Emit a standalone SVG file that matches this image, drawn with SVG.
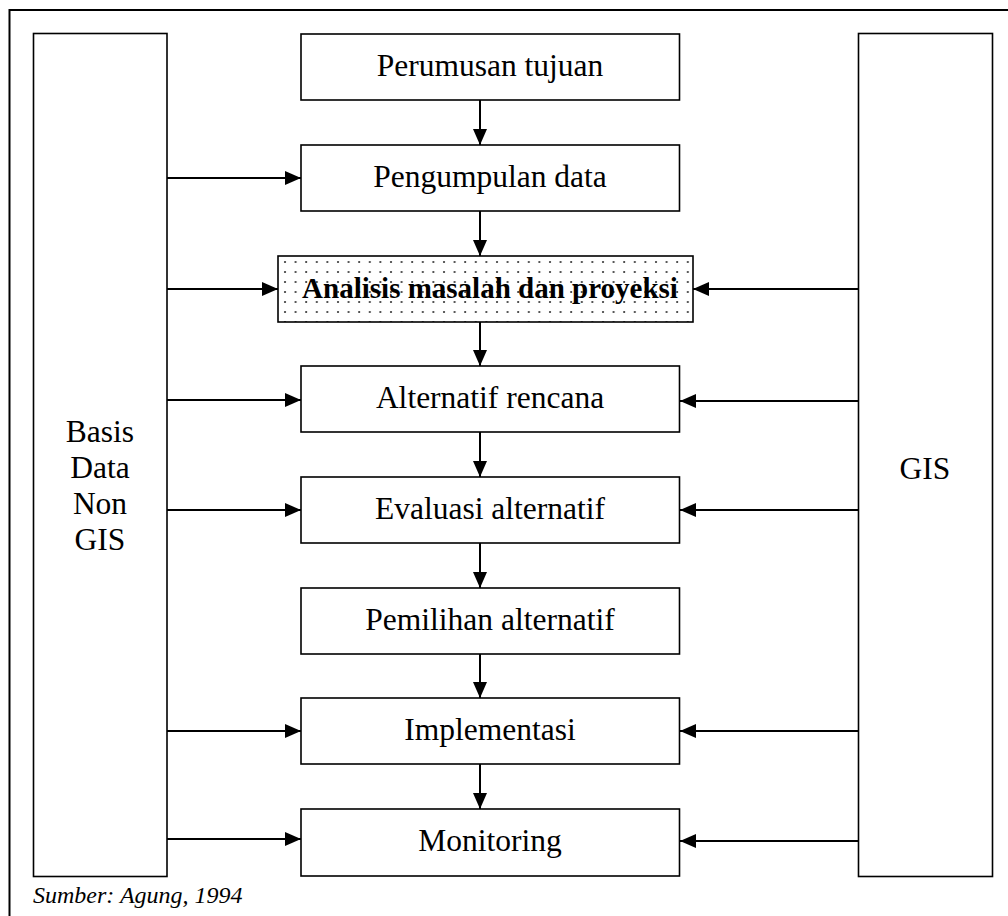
<svg xmlns="http://www.w3.org/2000/svg" width="1008" height="916" viewBox="0 0 1008 916">
<style>
.box{fill:#fff;stroke:#000;stroke-width:1.6}
.t{font-family:"Liberation Serif","Times New Roman",serif;font-size:31.5px;fill:#000;text-anchor:middle}
.b{font-weight:bold;font-size:29px}
.src{font-family:"Liberation Serif","Times New Roman",serif;font-size:24px;font-style:italic;fill:#000}
.c{stroke:#000;stroke-width:2;fill:none;marker-end:url(#ah)}
</style>
<defs>
<marker id="ah" markerUnits="userSpaceOnUse" markerWidth="16" markerHeight="14" refX="16" refY="7" orient="auto">
<path d="M0,0 L16,7 L0,14 z" fill="#000"/>
</marker>
<pattern id="dots" patternUnits="userSpaceOnUse" width="10.6" height="10" x="283" y="260">
<rect width="10.6" height="10" fill="#fff"/>
<circle cx="2" cy="2" r="1.1" fill="#333"/>
</pattern>
</defs>
<rect x="9.5" y="10" width="1010" height="920" fill="none" stroke="#000" stroke-width="2"/>
<g id="basis">
<rect class="box" x="33.5" y="33.5" width="133.5" height="843"/>
<text class="t" x="100" y="442">Basis</text>
<text class="t" x="100" y="478">Data</text>
<text class="t" x="100" y="514">Non</text>
<text class="t" x="100" y="550">GIS</text>
</g>
<g id="gis">
<rect class="box" x="858.5" y="33.5" width="134" height="843"/>
<text class="t" x="925" y="479">GIS</text>
</g>
<g id="n1"><rect class="box" x="301" y="34" width="378.5" height="66"/><text class="t" x="490" y="76">Perumusan tujuan</text></g>
<g id="n2"><rect class="box" x="301" y="145" width="378.5" height="66"/><text class="t" x="490" y="187">Pengumpulan data</text></g>
<g id="n3"><rect class="box" x="278" y="256" width="415" height="66" style="fill:url(#dots)"/><text class="t b" x="490" y="298">Analisis masalah dan proyeksi</text></g>
<g id="n4"><rect class="box" x="301" y="366" width="378.5" height="66"/><text class="t" x="490" y="408">Alternatif rencana</text></g>
<g id="n5"><rect class="box" x="301" y="477" width="378.5" height="66"/><text class="t" x="490" y="519">Evaluasi alternatif</text></g>
<g id="n6"><rect class="box" x="301" y="588" width="378.5" height="66"/><text class="t" x="490" y="630">Pemilihan alternatif</text></g>
<g id="n7"><rect class="box" x="301" y="698" width="378.5" height="66"/><text class="t" x="490" y="740">Implementasi</text></g>
<g id="n8"><rect class="box" x="301" y="809" width="378.5" height="67"/><text class="t" x="490" y="851">Monitoring</text></g>
<g id="connectors">
<line class="c" x1="480" y1="100" x2="480" y2="145"/>
<line class="c" x1="480" y1="211" x2="480" y2="256"/>
<line class="c" x1="480" y1="322" x2="480" y2="366"/>
<line class="c" x1="480" y1="432" x2="480" y2="477"/>
<line class="c" x1="480" y1="543" x2="480" y2="588"/>
<line class="c" x1="480" y1="654" x2="480" y2="698"/>
<line class="c" x1="480" y1="764" x2="480" y2="809"/>
<line class="c" x1="167" y1="178" x2="301" y2="178"/>
<line class="c" x1="167" y1="289" x2="278" y2="289"/>
<line class="c" x1="167" y1="400" x2="301" y2="400"/>
<line class="c" x1="167" y1="510" x2="301" y2="510"/>
<line class="c" x1="167" y1="731" x2="301" y2="731"/>
<line class="c" x1="167" y1="839" x2="301" y2="839"/>
<line class="c" x1="858" y1="289" x2="693" y2="289"/>
<line class="c" x1="858" y1="401" x2="680" y2="401"/>
<line class="c" x1="858" y1="510" x2="680" y2="510"/>
<line class="c" x1="858" y1="731" x2="680" y2="731"/>
<line class="c" x1="858" y1="841" x2="680" y2="841"/>
</g>
<text class="src" x="33" y="903">Sumber: Agung, 1994</text>
</svg>
